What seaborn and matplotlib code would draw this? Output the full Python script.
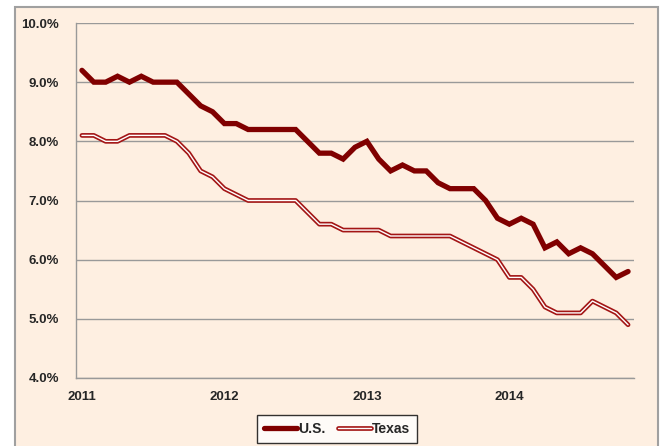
import numpy as np
import pandas as pd
import matplotlib
matplotlib.use("Agg")
import matplotlib.pyplot as plt
import matplotlib.patheffects as pe
from matplotlib.lines import Line2D
from matplotlib.patches import Rectangle
import seaborn as sns

# monthly unemployment rate, Jan 2011 - Nov 2014
us = [9.2, 9.0, 9.0, 9.1, 9.0, 9.1, 9.0, 9.0, 9.0, 8.8, 8.6, 8.5,
      8.3, 8.3, 8.2, 8.2, 8.2, 8.2, 8.2, 8.0, 7.8, 7.8, 7.7, 7.9,
      8.0, 7.7, 7.5, 7.6, 7.5, 7.5, 7.3, 7.2, 7.2, 7.2, 7.0, 6.7,
      6.6, 6.7, 6.6, 6.2, 6.3, 6.1, 6.2, 6.1, 5.9, 5.7, 5.8]
texas = [8.1, 8.1, 8.0, 8.0, 8.1, 8.1, 8.1, 8.1, 8.0, 7.8, 7.5, 7.4,
         7.2, 7.1, 7.0, 7.0, 7.0, 7.0, 7.0, 6.8, 6.6, 6.6, 6.5, 6.5,
         6.5, 6.5, 6.4, 6.4, 6.4, 6.4, 6.4, 6.4, 6.3, 6.2, 6.1, 6.0,
         5.7, 5.7, 5.5, 5.2, 5.1, 5.1, 5.1, 5.3, 5.2, 5.1, 4.9]
years = ["2011", "2012", "2013", "2014"]

BG = "#FEEFE1"
US_COLOR = "#800000"
TX_COLOR = "#A31515"
GRID = "#999999"

df = pd.DataFrame({"month": np.arange(len(us)), "U.S.": us, "Texas": texas})

sns.set_theme(style="white")
plt.rcParams["font.family"] = ["Liberation Sans Narrow", "Liberation Sans", "DejaVu Sans"]

fig = plt.figure(figsize=(6.61, 4.46), dpi=100, facecolor="white")
fig.patches.append(Rectangle((15 / 661, -0.05), 643 / 661, 1.05 - 7 / 446,
                             transform=fig.transFigure, facecolor=BG,
                             edgecolor="#A0A0A0", linewidth=1.5, zorder=-5))
ax = fig.add_axes([76 / 661, 1 - 378 / 446, 558 / 661, 355 / 446])
ax.set_facecolor("none")

sns.lineplot(data=df, x="month", y="U.S.", ax=ax, color=US_COLOR, linewidth=3.8,
             solid_joinstyle="miter", zorder=3)
tx_fx = [pe.Stroke(linewidth=3.4, foreground=TX_COLOR), pe.Normal()]
sns.lineplot(data=df, x="month", y="Texas", ax=ax, color="white", linewidth=1.0,
             path_effects=tx_fx, zorder=3)

ax.set_xlim(-0.5, len(us) - 0.5)
ax.set_ylim(4, 10)
ax.set_yticks(np.arange(4, 10.01, 1))
ax.set_yticklabels([f"{v:.1f}%" for v in np.arange(4, 10.01, 1)],
                   fontsize=9.5, fontweight="bold")
ax.set_xticks([0, 12, 24, 36])
ax.set_xticklabels(years, fontsize=9.5, fontweight="bold")
ax.set_xticks(np.arange(-0.5, len(us), 1), minor=True)
ax.tick_params(axis="x", which="major", length=0, pad=9)
ax.tick_params(axis="x", which="minor", length=4, color=GRID, width=1, direction="out")
ax.tick_params(axis="y", length=4, color=GRID, width=1, direction="out", pad=8)
ax.yaxis.grid(True, color=GRID, linewidth=1)
ax.xaxis.grid(False)
ax.set_xlabel("")
ax.set_ylabel("")
for side in ["top", "right"]:
    ax.spines[side].set_visible(False)
for side in ["left", "bottom"]:
    ax.spines[side].set_color(GRID)
    ax.spines[side].set_linewidth(1)

handles = [
    Line2D([], [], color=US_COLOR, linewidth=3.8),
    Line2D([], [], color="white", linewidth=1.0, path_effects=tx_fx),
]
leg = fig.legend(handles, ["U.S.", "Texas"], loc="upper center",
                 bbox_to_anchor=(337 / 661, 1 - 415 / 446), ncol=2,
                 frameon=True, fancybox=False, edgecolor="black",
                 prop={"weight": "bold", "size": 10}, handlelength=2.4,
                 handletextpad=0.05, columnspacing=0.9, borderpad=0.5,
                 borderaxespad=0)
leg.get_frame().set_linewidth(1)
leg.get_frame().set_facecolor("white")

fig.savefig("out.png", dpi=100, facecolor="white")
